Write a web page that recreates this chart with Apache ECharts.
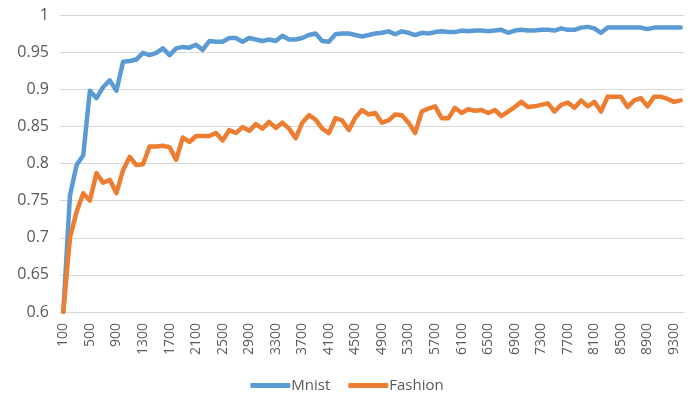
<!DOCTYPE html>
<html>
<head>
<meta charset="utf-8">
<script src="https://cdn.jsdelivr.net/npm/echarts@6/dist/echarts.min.js"></script>
<style>html,body{margin:0;padding:0;background:#fff}#c{width:694px;height:400px}</style>
</head>
<body>
<div id="c"></div>
<script>
var categories = [];
for (var k = 100; k <= 9400; k += 100) categories.push(String(k));

var mnist = [
0.600,0.757,0.798,0.811,0.898,0.888,0.903,0.912,0.898,0.937,
0.938,0.940,0.949,0.946,0.949,0.955,0.946,0.955,0.957,0.956,
0.960,0.953,0.965,0.964,0.964,0.969,0.969,0.964,0.969,0.967,
0.965,0.967,0.965,0.972,0.967,0.967,0.969,0.973,0.975,0.965,
0.964,0.974,0.975,0.975,0.973,0.971,0.973,0.975,0.976,0.978,
0.974,0.978,0.976,0.973,0.976,0.975,0.977,0.978,0.977,0.977,
0.979,0.978,0.979,0.979,0.978,0.979,0.980,0.976,0.979,0.980,
0.979,0.979,0.980,0.980,0.979,0.982,0.980,0.980,0.983,0.984,
0.982,0.976,0.983,0.983,0.983,0.983,0.983,0.983,0.981,0.983,
0.983,0.983,0.983,0.983
];

var fashion = [
0.600,0.700,0.735,0.760,0.750,0.787,0.774,0.778,0.760,0.791,
0.809,0.798,0.799,0.823,0.823,0.824,0.822,0.805,0.835,0.829,
0.837,0.837,0.837,0.841,0.831,0.845,0.841,0.849,0.844,0.853,
0.847,0.856,0.848,0.855,0.847,0.834,0.855,0.865,0.859,0.847,
0.841,0.861,0.858,0.845,0.862,0.872,0.866,0.868,0.855,0.858,
0.866,0.865,0.855,0.841,0.870,0.874,0.877,0.861,0.861,0.875,
0.868,0.873,0.871,0.872,0.868,0.872,0.864,0.870,0.876,0.883,
0.876,0.877,0.879,0.881,0.870,0.879,0.882,0.875,0.885,0.877,
0.883,0.870,0.890,0.890,0.890,0.876,0.885,0.888,0.877,0.890,
0.890,0.887,0.883,0.885
];

var yTicks = { min: 0.6, max: 1, interval: 0.05 };

var chart = echarts.init(document.getElementById('c'), null, { renderer: 'canvas' });
var font = 'Open Sans, Noto Sans, sans-serif';
chart.setOption({
  animation: false,
  grid: { left: 60, right: 10, top: 15, bottom: 88 },
  legend: {
    bottom: 2,
    left: 'center',
    itemWidth: 40,
    itemHeight: 5,
    itemGap: 18,
    icon: 'roundRect',
    textStyle: { color: '#595959', fontSize: 15, fontFamily: font, padding: [0, 0, 0, -4] },
    data: ['Mnist', 'Fashion']
  },
  xAxis: {
    type: 'category',
    data: categories,
    boundaryGap: true,
    axisLine: { lineStyle: { color: '#D9D9D9', width: 1 } },
    axisTick: { show: false },
    axisLabel: {
      interval: 3,
      rotate: 90,
      color: '#595959',
      fontSize: 14,
      fontFamily: font,
      margin: 11
    }
  },
  yAxis: {
    type: 'value',
    min: yTicks.min,
    max: yTicks.max,
    interval: yTicks.interval,
    axisLine: { show: false },
    axisTick: { show: false },
    splitLine: { lineStyle: { color: '#D9D9D9', width: 1 } },
    axisLabel: {
      color: '#595959',
      fontSize: 16,
      fontFamily: font,
      margin: 11,
      formatter: function (v) { return String(parseFloat(v.toFixed(2))); }
    }
  },
  series: [
    {
      name: 'Mnist', type: 'line', data: mnist, symbol: 'none',
      lineStyle: { color: '#5B9BD5', width: 4.5, join: 'round', cap: 'round' },
      itemStyle: { color: '#5B9BD5' }
    },
    {
      name: 'Fashion', type: 'line', data: fashion, symbol: 'none',
      lineStyle: { color: '#ED7D31', width: 4.5, join: 'round', cap: 'round' },
      itemStyle: { color: '#ED7D31' }
    }
  ]
});
</script>
</body>
</html>
